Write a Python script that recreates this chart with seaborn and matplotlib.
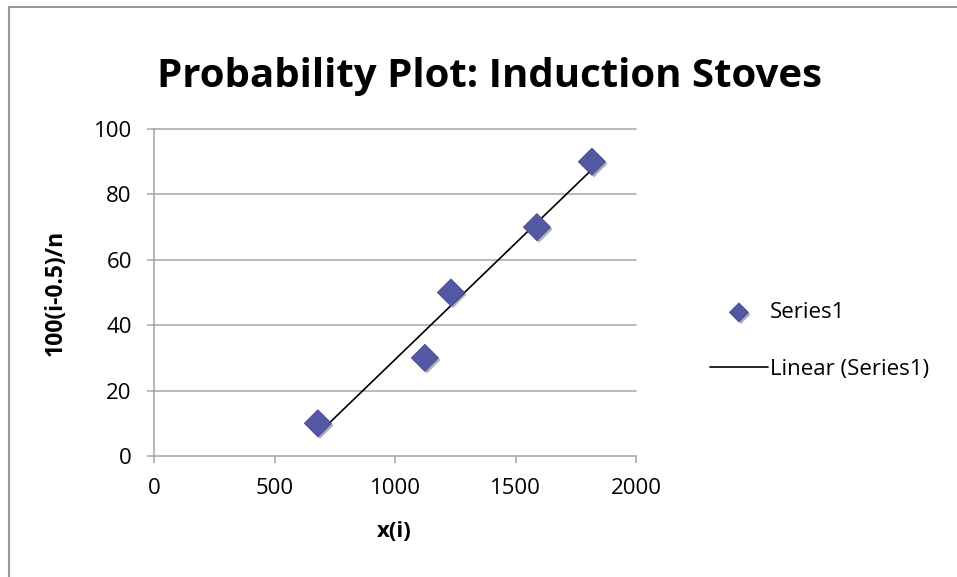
import numpy as np
import pandas as pd
import matplotlib
matplotlib.use("Agg")
import matplotlib.pyplot as plt
import matplotlib.patheffects as pe
from matplotlib.patches import Rectangle
import seaborn as sns

# Ordered observations and their plotting positions
x_values = [680, 1124, 1232, 1589, 1817]
y_values = [10, 30, 50, 70, 90]
x_ticks = [0, 500, 1000, 1500, 2000]
y_ticks = [0, 20, 40, 60, 80, 100]
title = "Probability Plot: Induction Stoves"
x_label = "x(i)"
y_label = "100(i-0.5)/n"
series_name = "Series1"
trend_name = "Linear (Series1)"

sns.set_theme(style="white")
plt.rcParams["font.family"] = ["Open Sans", "DejaVu Sans"]
plt.rcParams["text.color"] = "black"
plt.rcParams["axes.labelcolor"] = "black"

df = pd.DataFrame({"x": x_values, "y": y_values})

# Least-squares trendline over the observed range
slope, intercept = np.polyfit(df["x"], df["y"], 1)
trend = pd.DataFrame({"x": [df["x"].min(), df["x"].max()]})
trend["y"] = slope * trend["x"] + intercept

fig = plt.figure(figsize=(9.57, 5.77), dpi=100)
fig.patch.set_facecolor("white")
fig.patches.append(Rectangle((9 / 957, -0.05), 1.2, 1 - 7 / 577 + 0.05,
                             transform=fig.transFigure, fill=False,
                             edgecolor="#9a9a9a", linewidth=1.5))

ax = fig.add_axes([154 / 957, 1 - 456 / 577, 482 / 957, 327 / 577])

grid_col = "#a6a6a6"
for yv in y_ticks[1:]:
    ax.axhline(yv, color=grid_col, linewidth=1.1, zorder=0, clip_on=False)

sns.lineplot(data=trend, x="x", y="y", ax=ax, color="black", linewidth=1.2,
             label=trend_name, zorder=2)
sns.scatterplot(data=df, x="x", y="y", ax=ax, marker="D", s=190,
                color="#5458a2", edgecolor="#464a92", linewidth=0.6,
                label=series_name, zorder=3,
                path_effects=[pe.SimplePatchShadow(offset=(1.5, -1.5), alpha=0.35),
                              pe.Normal()])

ax.set_xlim(0, 2000)
ax.set_ylim(0, 100)
ax.set_xticks(x_ticks)
ax.set_yticks(y_ticks)
for side in ["top", "right"]:
    ax.spines[side].set_visible(False)
for side in ["left", "bottom"]:
    ax.spines[side].set_color(grid_col)
    ax.spines[side].set_linewidth(1.1)
ax.tick_params(axis="both", which="major", direction="out", length=5,
               width=1.1, color=grid_col, labelsize=16, labelcolor="black")
ax.tick_params(axis="x", pad=11)
ax.tick_params(axis="y", pad=11)
ax.tick_params(bottom=True, left=True)

ax.set_xlabel(x_label, fontsize=16, fontweight="bold", color="black")
ax.set_ylabel(y_label, fontsize=16.5, fontweight="bold", color="black")
ax.xaxis.set_label_coords(0.498, -0.2)
ax.yaxis.set_label_coords(-0.18, 0.5)

fig.text(490 / 957, 1 - 76 / 577, title, ha="center", va="center",
         fontsize=29, fontweight="bold", color="black")

handles, labels = ax.get_legend_handles_labels()
order = [labels.index(series_name), labels.index(trend_name)]
leg = ax.legend([handles[i] for i in order], [labels[i] for i in order],
                loc="center left", bbox_to_anchor=(690 / 957, 1 - 341 / 577),
                bbox_transform=fig.transFigure, frameon=False, fontsize=16,
                handlelength=2.6, handletextpad=0.1, labelspacing=1.6,
                markerscale=0.7)
for t in leg.get_texts():
    t.set_color("black")

fig.savefig("out.png", dpi=100)
